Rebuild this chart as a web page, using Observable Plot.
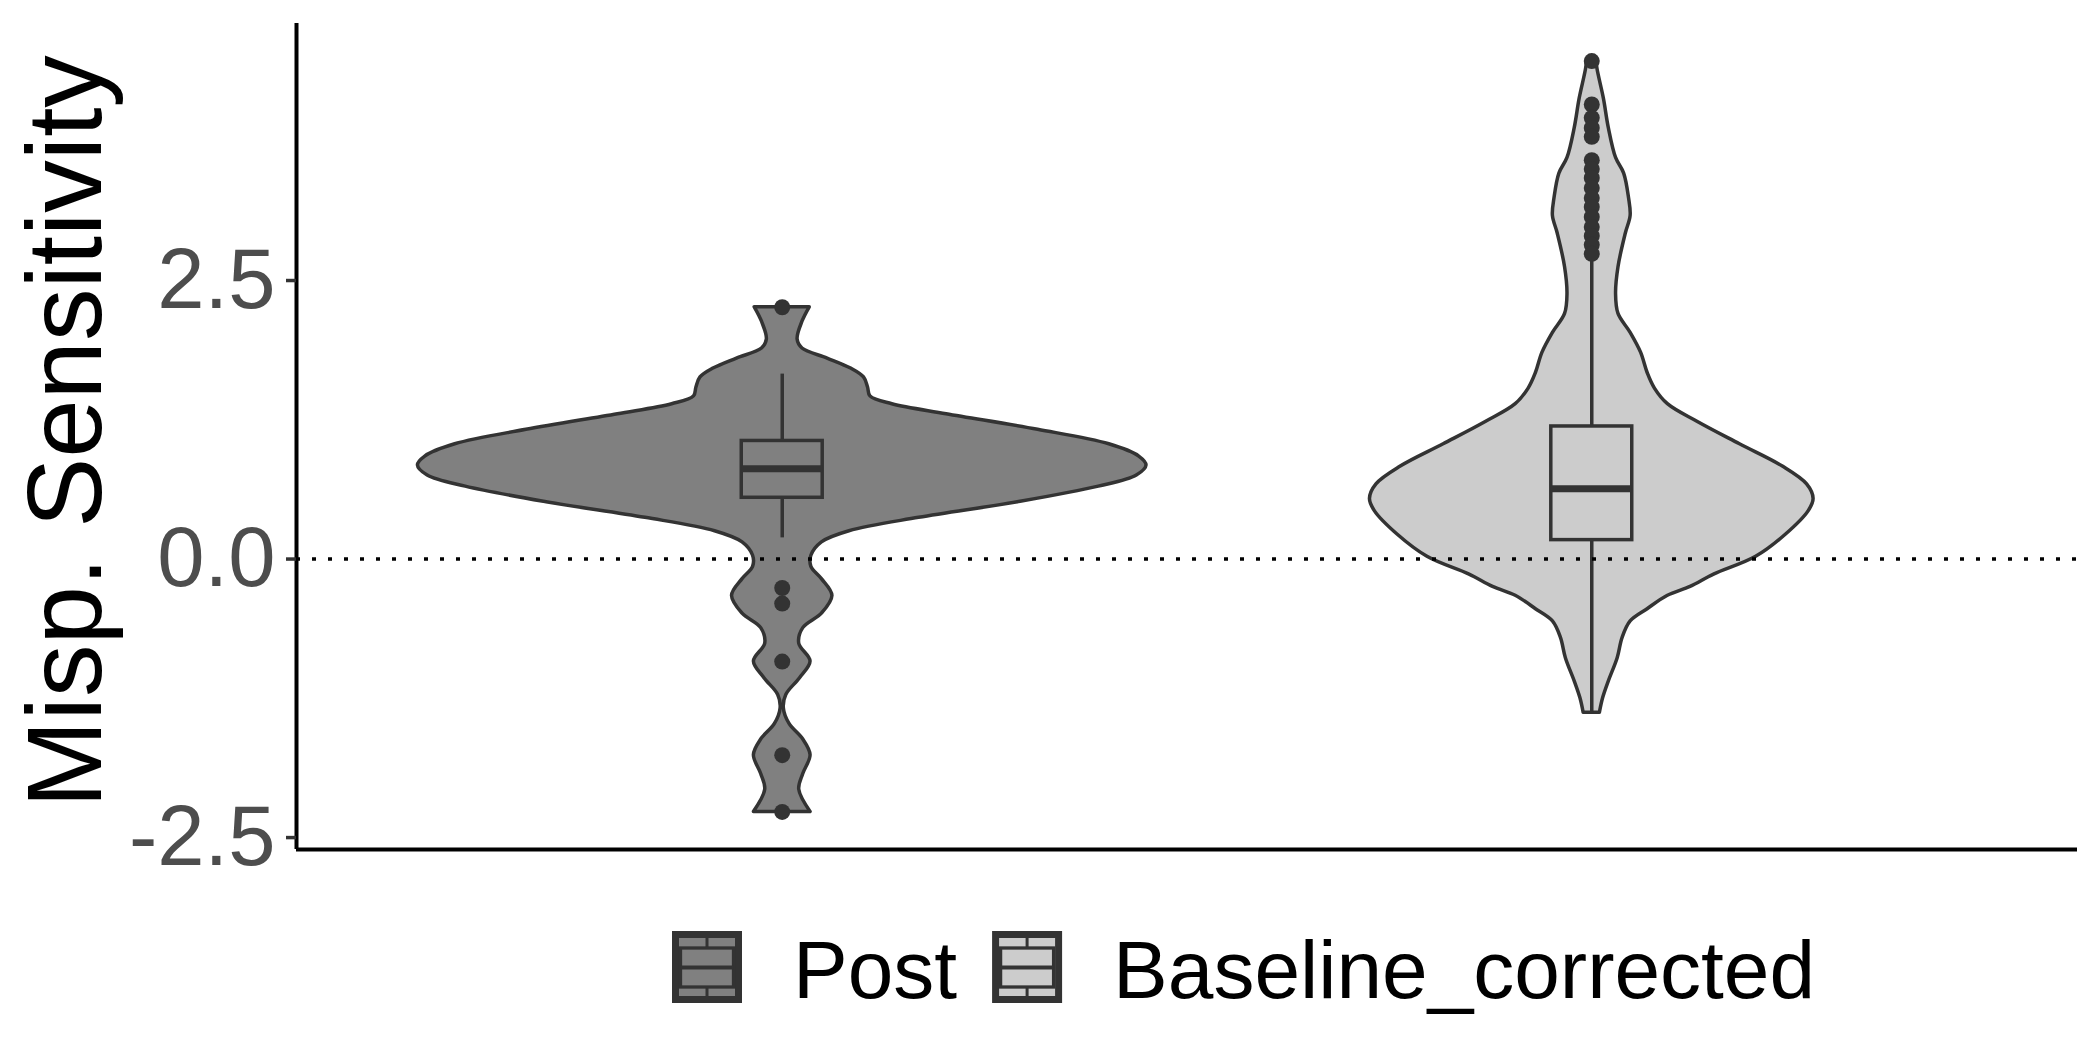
<!DOCTYPE html>
<html>
<head>
<meta charset="utf-8">
<script src="https://cdn.jsdelivr.net/npm/d3@7"></script>
<script src="https://cdn.jsdelivr.net/npm/@observablehq/plot@0.6"></script>
<style>
  body { margin: 0; background: #fff; font-family: "Liberation Sans", Arial, sans-serif; }
  #chart { width: 2100px; height: 1050px; position: relative; background: #fff; }
  #chart svg { display: block; }
</style>
</head>
<body>
<div id="chart"></div>
<script>
// ---------------- data ----------------
const groups = ["Post", "Baseline_corrected"];
const groupFills = ["#808080", "#CCCCCC"];
const yTicks = [-2.5, 0, 2.5];
const yAxisTitle = "Misp. Sensitivity";

// violin outline: value (y) and half-width (x units, category spacing = 1)
const postViolinY = [2.26, 2.13, 1.97, 1.89, 1.80, 1.71, 1.63, 1.54, 1.46, 1.39, 1.30, 1.16, 1.03, 0.92, 0.84, 0.75, 0.65, 0.51, 0.37, 0.25, 0.15, 0.03, -0.07, -0.18, -0.33, -0.49, -0.62, -0.76, -0.92, -1.07, -1.22, -1.34, -1.48, -1.62, -1.76, -1.93, -2.07, -2.27];
const postViolinHalfWidth = [0.034, 0.025, 0.019, 0.025, 0.056, 0.085, 0.101, 0.106, 0.109, 0.136, 0.203, 0.316, 0.404, 0.441, 0.450, 0.438, 0.391, 0.291, 0.169, 0.083, 0.049, 0.036, 0.036, 0.049, 0.062, 0.049, 0.026, 0.021, 0.035, 0.022, 0.005, 0.002, 0.009, 0.026, 0.035, 0.026, 0.021, 0.035];

const baseViolinY = [4.47, 4.40, 4.13, 3.87, 3.60, 3.46, 3.24, 3.08, 2.92, 2.62, 2.38, 2.20, 2.03, 1.85, 1.67, 1.53, 1.39, 1.23, 1.03, 0.83, 0.67, 0.54, 0.43, 0.22, 0.02, -0.14, -0.25, -0.33, -0.45, -0.56, -0.71, -0.89, -1.10, -1.25, -1.38];
const baseViolinHalfWidth = [0.006, 0.007, 0.015, 0.021, 0.030, 0.040, 0.046, 0.048, 0.042, 0.033, 0.030, 0.033, 0.048, 0.061, 0.069, 0.078, 0.094, 0.131, 0.183, 0.236, 0.266, 0.274, 0.268, 0.240, 0.203, 0.151, 0.122, 0.094, 0.069, 0.048, 0.038, 0.032, 0.021, 0.014, 0.010];

// boxplot statistics, in group order
const boxQ1 = [0.55, 0.17];
const boxMedian = [0.81, 0.63];
const boxQ3 = [1.06, 1.19];
const whiskerLow = [0.19, -1.38];
const whiskerHigh = [1.66, 2.70];

const postOutliers = [2.26, -0.26, -0.40, -0.92, -1.76, -2.27];
const baseOutliers = [4.47, 4.08, 3.96, 3.87, 3.79, 3.58, 3.50, 3.42, 3.33, 3.24, 3.16, 3.07, 2.98, 2.90, 2.82, 2.74];

// ---------------- tables ----------------
const violinSets = [[postViolinY, postViolinHalfWidth], [baseViolinY, baseViolinHalfWidth]];
const violinRows = violinSets.flatMap(([ys, ws], gi) =>
  ys.map((y, i) => ({group: groups[gi], y, x1: gi + 1 - ws[i], x2: gi + 1 + ws[i]})));
const boxHalf = 0.05;
const boxRows = groups.map((g, i) => ({
  group: g, x: i + 1, q1: boxQ1[i], med: boxMedian[i], q3: boxQ3[i], lo: whiskerLow[i], hi: whiskerHigh[i]
}));
const outlierRows = [postOutliers, baseOutliers].flatMap((vals, gi) => vals.map(v => ({group: groups[gi], x: gi + 1, y: v})));

const allVals = [...postViolinY, ...baseViolinY];
const yMin = d3.min(allVals), yMax = d3.max(allVals);
const pad = (yMax - yMin) * 0.05;
const yDomain = [yMin - pad, yMax + pad];
const xDomain = [0.4, groups.length + 0.6];

const outline = "#333333";

const plot = Plot.plot({
  width: 2100,
  height: 880,
  marginLeft: 296,
  marginRight: 23,
  marginTop: 23,
  marginBottom: 31,
  style: {fontFamily: "Liberation Sans, Arial, sans-serif", background: "#fff", overflow: "visible"},
  x: {domain: xDomain, axis: null},
  y: {domain: yDomain, label: null},
  color: {domain: groups, range: groupFills},
  marks: [
    Plot.areaX(violinRows, {x1: "x1", x2: "x2", y: "y", fill: "group", z: "group", stroke: outline, strokeWidth: 3.5, curve: "catmull-rom"}),
    Plot.ruleX(boxRows, {x: "x", y1: "q3", y2: "hi", stroke: outline, strokeWidth: 3.5}),
    Plot.ruleX(boxRows, {x: "x", y1: "lo", y2: "q1", stroke: outline, strokeWidth: 3.5}),
    Plot.rect(boxRows, {x1: d => d.x - boxHalf, x2: d => d.x + boxHalf, y1: "q1", y2: "q3", fill: "group", stroke: outline, strokeWidth: 3.5}),
    Plot.ruleY(boxRows, {y: "med", x1: d => d.x - boxHalf, x2: d => d.x + boxHalf, stroke: outline, strokeWidth: 7}),
    Plot.dot(outlierRows, {x: "x", y: "y", r: 8, fill: outline, stroke: null}),
    Plot.ruleY([0], {stroke: "#000", strokeWidth: 3.5, strokeDasharray: "4,12"}),
    Plot.ruleX([xDomain[0]], {stroke: "#000", strokeWidth: 4}),
    Plot.ruleY([yDomain[0]], {stroke: "#000", strokeWidth: 4}),
    Plot.axisY(yTicks, {tickSize: 10, tickPadding: 11, fontSize: 85, tickFormat: d => d.toFixed(1), color: outline, stroke: outline, strokeWidth: 3.5, fill: "#4D4D4D", label: null}),
    Plot.text([yAxisTitle], {frameAnchor: "left", text: d => d, rotate: -90, dx: -196, dy: -5, fontSize: 105, fill: "#000", textAnchor: "middle", lineAnchor: "bottom"})
  ]
});
document.getElementById("chart").appendChild(plot);

// ---------------- legend ----------------
const legend = d3.select("#chart").append("svg")
  .attr("width", 2100).attr("height", 170)
  .style("display", "block")
  .style("font-family", "Liberation Sans, Arial, sans-serif");
let cx = 672;
groups.forEach((g, i) => {
  const k = legend.append("g").attr("transform", `translate(${cx},51)`);
  k.append("rect").attr("x", 3.5).attr("y", 3.5).attr("width", 63).attr("height", 65)
    .attr("fill", groupFills[i]).attr("stroke", outline).attr("stroke-width", 7);
  k.append("line").attr("x1", 35).attr("x2", 35).attr("y1", 7).attr("y2", 17).attr("stroke", outline).attr("stroke-width", 3);
  k.append("line").attr("x1", 35).attr("x2", 35).attr("y1", 56).attr("y2", 66).attr("stroke", outline).attr("stroke-width", 3);
  k.append("rect").attr("x", 8.5).attr("y", 17).attr("width", 53).attr("height", 39)
    .attr("fill", groupFills[i]).attr("stroke", outline).attr("stroke-width", 3.3);
  k.append("line").attr("x1", 8.5).attr("x2", 61.5).attr("y1", 36.5).attr("y2", 36.5).attr("stroke", outline).attr("stroke-width", 4);
  const t = legend.append("text").attr("x", cx + 70 + 51).attr("y", 118)
    .attr("font-size", 82).attr("fill", "#000").text(g);
  const w = t.node().getComputedTextLength();
  cx = cx + 70 + 51 + w + 35;
});
</script>
</body>
</html>
